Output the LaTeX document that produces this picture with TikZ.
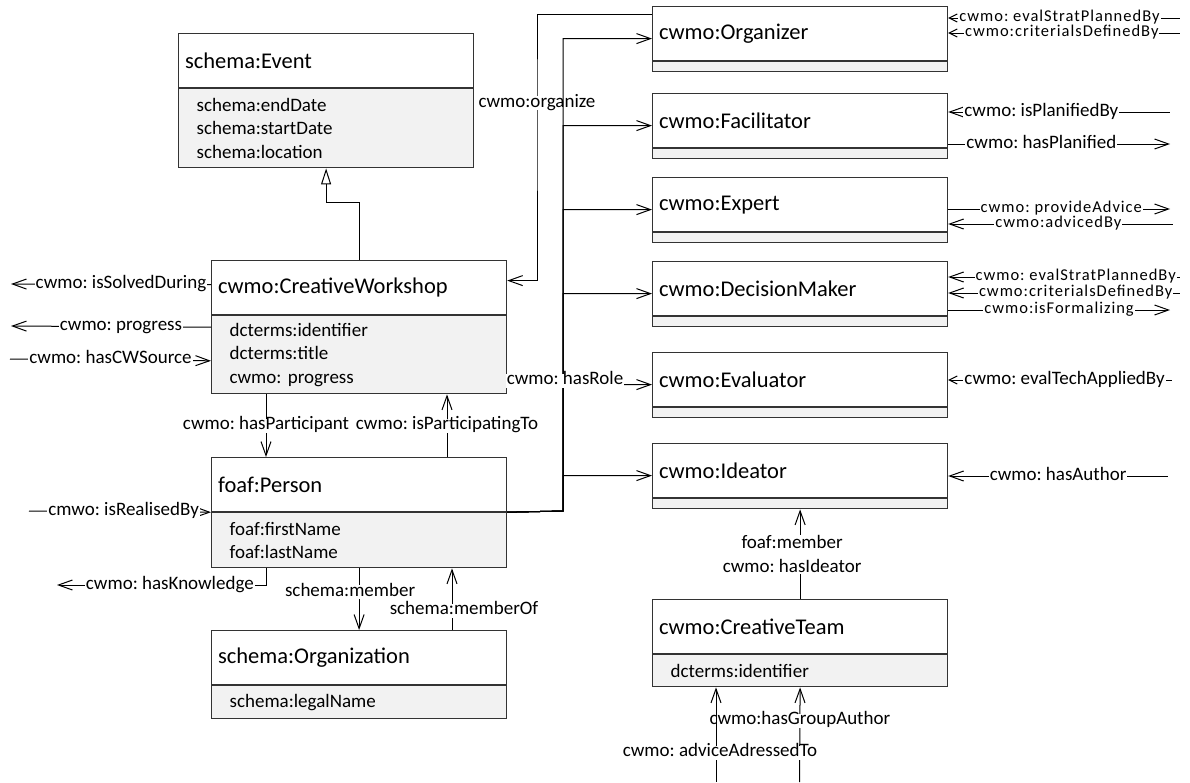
\documentclass[tikz,border=0pt]{standalone}
\usepackage{fontspec}
\setmainfont{Carlito}
\usetikzlibrary{arrows.meta}
\frenchspacing

\begin{document}
\begin{tikzpicture}[x=1pt, y=-1pt, line width=1pt,
		>={Straight Barb[length=14pt, width=10pt]},
		small/.style={>={Straight Barb[length=8pt, width=8pt]}},
		ttl/.style={draw=black!80, line width=1.2pt, fill=white, anchor=north west, minimum width=295pt, minimum height=54pt, text width=282pt, inner xsep=6.5pt, align=left, font=\fontsize{22.5}{27}\selectfont},
		att/.style={draw=black!80, line width=1.2pt, fill=black!5, anchor=north west, minimum width=295pt, minimum height=#1, text width=259pt, inner xsep=18pt, align=left, font=\fontsize{19}{23.5}\selectfont},
		comp/.style={draw=black!80, line width=1.2pt, fill=black!5, anchor=north, minimum width=295pt, minimum height=10pt, inner sep=0pt},
		lbl/.style={fill=white, inner xsep=1pt, inner ysep=0pt, text height=11pt, text depth=3pt, font=\fontsize{19}{23}\selectfont},
		lbls/.style={lbl, text height=9.5pt, text depth=2.5pt, font=\fontsize{16.5}{20}\selectfont\addfontfeatures{LetterSpace=6}},
		lbl2/.style={fill=white, inner sep=1pt, align=center, font=\fontsize{19}{24}\selectfont}]
		\useasboundingbox (0, 0) rectangle (1190, 782);

		\node[ttl] at (178, 33) (ev) {schema:Event};
		\node[att=79pt] at (ev.south west) (eva) {schema:endDate\\schema:startDate\\schema:location};
		\node[ttl] at (211, 260) (cw) {cwmo:CreativeWorkshop};
		\node[att=78pt] at (cw.south west) (cwa) {dcterms:identifier\\dcterms:title\\cwmo: progress};
		\node[ttl] at (211, 457) (per) {foaf:Person};
		\node[att=55pt] at (per.south west) (pera) {foaf:firstName\\foaf:lastName};
		\node[ttl] at (211, 630) (orgn) {schema:Organization};
		\node[att=33pt] at (orgn.south west) (orgna) {schema:legalName};
		\node[ttl] at (652, 599) (team) {cwmo:CreativeTeam};
		\node[att=32pt] at (team.south west) (teama) {dcterms:identifier};

		\node[ttl] at (652, 6) (org) {cwmo:Organizer};
		\node[comp] at (org.south) (orgc) {};
		\node[ttl] at (652, 93) (fac) {cwmo:Facilitator};
		\node[comp] at (fac.south) (facc) {};
		\node[ttl] at (652, 177) (exp) {cwmo:Expert};
		\node[comp] at (exp.south) (expc) {};
		\node[ttl] at (652, 261) (dec) {cwmo:DecisionMaker};
		\node[comp] at (dec.south) (decc) {};
		\node[ttl] at (652, 352) (evl) {cwmo:Evaluator};
		\node[comp] at (evl.south) (evlc) {};
		\node[ttl] at (652, 443) (ide) {cwmo:Ideator};
		\node[comp] at (ide.south) (idec) {};

		\coordinate (sd) at (11, 284);
		\coordinate (pg) at (11, 326);
		\coordinate (src) at (10, 359);
		\coordinate (rb) at (29, 511);
		\coordinate (kn) at (57, 585);
		\coordinate (oz) at (537, 103);
		\coordinate (hub) at (563, 511);

		\draw[-{Triangle[open, length=16pt, width=10pt]}] (cw.north) -- ++(0, -58) -| (eva.south);

		\draw[->] ([yshift=3pt]cw.west) -- (sd) node[lbl, pos=0.45] (lsd) {cwmo: isSolvedDuring};
		\draw[->] ([yshift=-12pt]cwa.north west) -- (pg) node[lbl, pos=0.45] (lpg) {cwmo: progress};
		\draw[<-] ([yshift=-6pt]cwa.west) -- (src) node[lbl, pos=0.5] (lsrc) {cwmo: hasCWSource};
		\draw[<-] (per.south west) -- (rb) node[lbl, pos=0.48] (lrb) {cmwo: isRealisedBy};
		\draw[->] ([xshift=55pt]pera.south west) |- (kn) node[lbl, pos=0.73] (lkn) {cwmo: hasKnowledge};

		\draw[->] ([xshift=55pt]cwa.south west) -- ([xshift=55pt]per.north west) node[lbl, midway] (lhp) {cwmo: hasParticipant};
		\draw[<-] ([xshift=236pt]cwa.south west) -- ([xshift=236pt]per.north west) node[lbl, midway] (lip) {cwmo: isParticipatingTo};
		\draw[->] (pera.south) -- (orgn.north) node[lbl, pos=0.39, xshift=-9pt] (lsm) {schema:member};
		\draw[<-] ([xshift=241pt]pera.south west) -- ([xshift=241pt]orgn.north west) node[lbl, pos=0.69, xshift=12pt] (lmo) {schema:memberOf};

		\draw[<-] ([yshift=7pt]cw.east) -| (oz) node[lbl] (loz) {cwmo:organize} |- ([yshift=-8pt]org.north west);

		\draw[->] (per.south east) -- (hub) |- ([yshift=-5pt]org.west);
		\draw[->] (per.south east) -- (hub) |- ([yshift=-5pt]fac.west);
		\draw[->] (per.south east) -- (hub) |- ([yshift=-5pt]exp.west);
		\draw[->] (per.south east) -- (hub) |- ([yshift=-5pt]dec.west);
		\draw[->] (per.south east) -- (hub) |- ([yshift=-5pt]ide.west);
		\draw[->] (per.south east) -- (hub) |- ([yshift=-5pt]evl.west) node[lbl, pos=0.5, xshift=2pt, yshift=4pt] (lrl) {cwmo: hasRole};

		\coordinate (o1) at (1180, 18);
		\coordinate (o2) at (1180, 33);
		\draw[small, <-] ([yshift=-12pt]org.north east) -- (o1) node[lbls, pos=0.48] (lo1) {cwmo: evalStratPlannedBy};
		\draw[small, <-] ([yshift=-27pt]org.north east) -- (o2) node[lbls, pos=0.49] (lo2) {cwmo:criterialsDefinedBy};

		\coordinate (f1) at (1170, 112);
		\coordinate (f2) at (1170, 144);
		\draw[<-] ([yshift=-19pt]fac.north east) -- (f1) node[lbl, pos=0.42] (lf1) {cwmo: isPlanifiedBy};
		\draw[->] ([yshift=-51pt]fac.north east) -- (f2) node[lbl, pos=0.42] (lf2) {cwmo: hasPlanified};

		\coordinate (e1) at (1170, 209);
		\coordinate (e2) at (1173, 224);
		\draw[->] ([yshift=-32pt]exp.north east) -- (e1) node[lbls, pos=0.51] (le1) {cwmo: provideAdvice};
		\draw[<-] ([yshift=-47pt]exp.north east) -- (e2) node[lbls, pos=0.49] (le2) {cwmo:advicedBy};

		\coordinate (d1) at (1180, 277);
		\coordinate (d2) at (1180, 293);
		\coordinate (d3) at (1170, 310);
		\draw[<-] ([yshift=-16pt]dec.north east) -- (d1) node[lbls, pos=0.55] (ld1) {cwmo: evalStratPlannedBy};
		\draw[<-] ([yshift=-32pt]dec.north east) -- (d2) node[lbls, pos=0.55] (ld2) {cwmo:criterialsDefinedBy};
		\draw[->] ([yshift=-49pt]dec.north east) -- (d3) node[lbls, pos=0.5] (ld3) {cwmo:isFormalizing};

		\coordinate (v1) at (1172, 380);
		\draw[small, <-] ([yshift=-28pt]evl.north east) -- (v1) node[lbl, pos=0.52] (lv1) {cwmo: evalTechAppliedBy};

		\coordinate (i1) at (1168, 476);
		\draw[<-] ([yshift=-33pt]ide.north east) -- (i1) node[lbl, pos=0.5] (li1) {cwmo: hasAuthor};

		\draw[<-] (idec.south) -- (team.north) node[lbl2, midway, xshift=-8pt] (lid) {foaf:member\\cwmo: hasIdeator};

		\coordinate (ga) at (799.5, 782);
		\coordinate (ad) at (716, 782);
		\draw[<-] (teama.south) -- (ga) node[lbl, pos=0.35] (lga) {cwmo:hasGroupAuthor};
		\draw[<-] ([xshift=64pt]teama.south west) -- (ad) node[lbl, pos=0.69, xshift=4pt] (lad) {cwmo: adviceAdressedTo};
	\end{tikzpicture}
\end{document}
